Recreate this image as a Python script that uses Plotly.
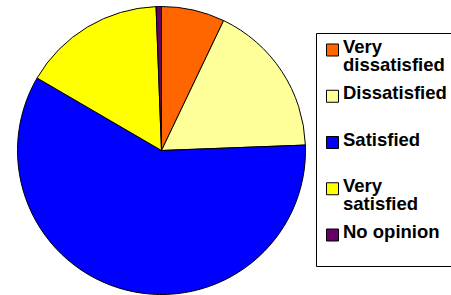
import plotly.graph_objects as go

# Data
categories = ["Very dissatisfied", "Dissatisfied", "Satisfied", "Very satisfied", "No opinion"]
legend_lines = [["Very", "dissatisfied"], ["Dissatisfied"], ["Satisfied"], ["Very", "satisfied"], ["No opinion"]]
values = [7.1, 17.3, 59.0, 16.0, 0.6]
colors = ["#FF6600", "#FFFF99", "#0000FF", "#FFFF00", "#660066"]

W, H = 451, 295

def px(x):
    return x / W

def py(y):
    return 1 - y / H

fig = go.Figure(go.Pie(
    labels=categories,
    values=values,
    sort=False,
    direction="clockwise",
    rotation=0,
    marker=dict(colors=colors, line=dict(color="black", width=1)),
    textinfo="none",
    hoverinfo="label+percent",
    showlegend=False,
    domain=dict(x=[17.5 / W, 305.5 / W], y=[0.5 / H, 1 - 6.5 / H]),
))

shapes = []
annotations = []
# legend frame
shapes.append(dict(type="rect", xref="paper", yref="paper",
                   x0=px(316.5), x1=px(460), y0=py(33.5), y1=py(266.5),
                   line=dict(color="black", width=1), fillcolor="rgba(0,0,0,0)"))
step = 46.25
for i, (lines, col) in enumerate(zip(legend_lines, colors)):
    top = 44 + step * i
    shapes.append(dict(type="rect", xref="paper", yref="paper",
                       x0=px(326.5), x1=px(338.5), y0=py(top), y1=py(top + 12),
                       line=dict(color="black", width=1), fillcolor=col))
    center = top + 6
    for j, line in enumerate(lines):
        annotations.append(dict(
            xref="paper", yref="paper", x=px(341.5), y=py(center - 3.3 + 18 * j),
            xanchor="left", yanchor="middle", showarrow=False,
            borderpad=0,
            text="<b>" + line + "</b>",
            font=dict(family="Liberation Sans, Arial, sans-serif", size=18.5, color="black"),
        ))

fig.update_layout(
    width=W, height=H,
    margin=dict(l=0, r=0, t=0, b=0),
    paper_bgcolor="white", plot_bgcolor="white",
    shapes=shapes, annotations=annotations,
)

fig.write_html("out.html", config={"displayModeBar": False},
               post_script="document.body.style.margin='0';document.body.style.overflow='hidden';")
